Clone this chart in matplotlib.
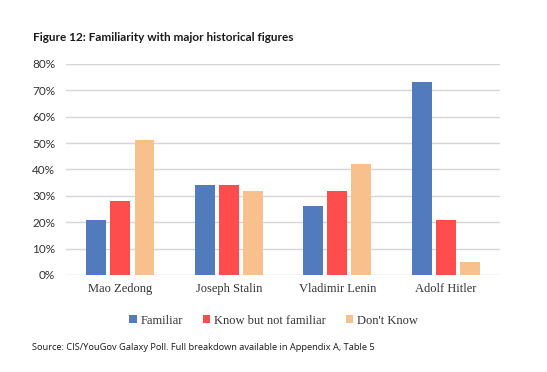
import matplotlib
matplotlib.use("Agg")
import matplotlib.pyplot as plt
import numpy as np

categories = ["Mao Zedong", "Joseph Stalin", "Vladimir Lenin", "Adolf Hitler"]
series_names = ["Familiar", "Know but not familiar", "Don't Know"]
familiar = [21, 34, 26, 73]
know_not_familiar = [28, 34, 32, 21]
dont_know = [51, 32, 42, 5]
yticks = [0, 10, 20, 30, 40, 50, 60, 70, 80]
colors = ["#527BBD", "#FF4C4C", "#F7C08C"]

fig = plt.figure(figsize=(5.47, 3.72), dpi=100)
ax = fig.add_axes([0.121, 0.261, 0.793, 0.567])

x = np.arange(len(categories))
w = 0.184
step = 0.222
for i, (vals, name) in enumerate(zip([familiar, know_not_familiar, dont_know], series_names)):
    ax.bar(x + (i - 1) * step, vals, width=w, color=colors[i], label=name, zorder=3)

ax.set_xlim(-0.5, 3.5)
ax.set_ylim(0, 80)
ax.set_yticks(yticks)
ax.set_yticklabels([f"{v}%" for v in yticks], fontsize=8.5, color="#333333", family="Lato")
ax.set_xticks(x)
ax.set_xticklabels(categories, fontsize=9, color="#333333", family="Liberation Serif")
ax.tick_params(axis="both", length=0, pad=8)
ax.tick_params(axis="x", pad=6)
ax.grid(axis="y", color="#d6d6d6", linewidth=1, zorder=0)
for s in ax.spines.values():
    s.set_visible(False)

handles, labels = ax.get_legend_handles_labels()
fig.legend(handles, labels, loc="center", bbox_to_anchor=(0.5, 0.138), ncol=3, frameon=False,
           prop={"family": "Liberation Serif", "size": 9}, handlelength=0.6, handleheight=0.6,
           handletextpad=0.3, columnspacing=1.6, labelcolor="#333333")

fig.text(0.06, 0.9, "Figure 12: Familiarity with major historical figures", fontsize=8.5,
         fontweight="bold", family="Lato", color="#1a1a1a", va="center")
fig.text(0.058, 0.067, "Source: CIS/YouGov Galaxy Poll. Full breakdown available in Appendix A, Table 5",
         fontsize=6.7, family="Open Sans", color="#1a1a1a", va="center")

fig.savefig("out.png", dpi=100, facecolor="white")
